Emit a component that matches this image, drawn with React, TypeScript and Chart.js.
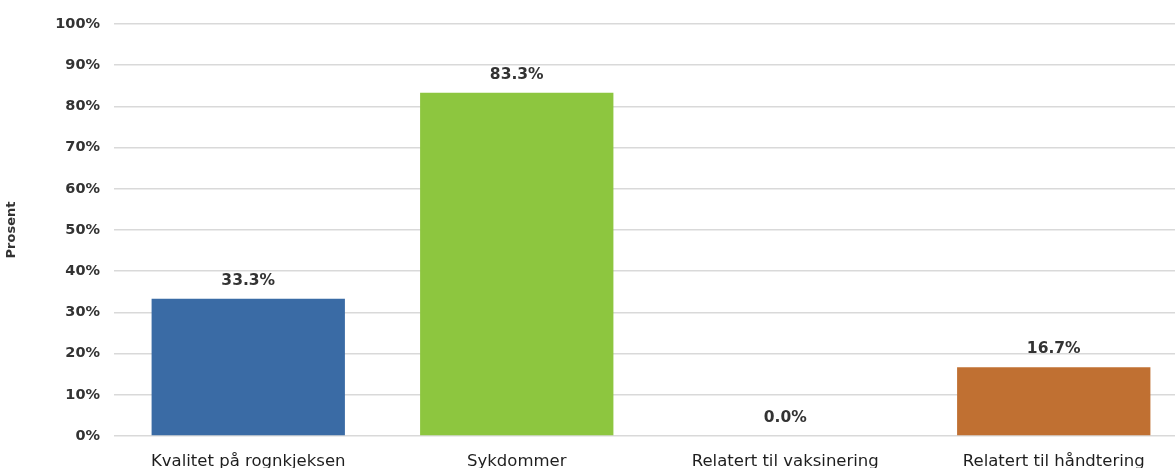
import React, { useEffect, useRef } from "react";
import { Chart, registerables } from "chart.js";

Chart.register(...registerables);

const categories = [
  "Kvalitet på rognkjeksen",
  "Sykdommer",
  "Relatert til vaksinering",
  "Relatert til håndtering",
];
const values = [33.3, 83.3, 0.0, 16.7];
const barColors = ["#3A6BA5", "#8DC63F", "#8DC63F", "#C07032"];
const yTicks = [0, 10, 20, 30, 40, 50, 60, 70, 80, 90, 100];

const FONT = "'DejaVu Sans', Verdana, sans-serif";

const valueLabels = {
  id: "valueLabels",
  afterDatasetsDraw(chart: any) {
    const ctx = chart.ctx;
    const meta = chart.getDatasetMeta(0);
    ctx.save();
    ctx.font = `bold 15.5px ${FONT}`;
    ctx.fillStyle = "#333333";
    ctx.textAlign = "center";
    ctx.textBaseline = "middle";
    meta.data.forEach((bar: any, i: number) => {
      const v = chart.data.datasets[0].data[i] as number;
      ctx.fillText(v.toFixed(1) + "%", bar.x, bar.y - 18);
    });
    ctx.restore();
  },
};

export default function App() {
  const ref = useRef<HTMLCanvasElement>(null);
  useEffect(() => {
    if (!ref.current) return;
    const chart = new Chart(ref.current, {
      type: "bar",
      data: {
        labels: categories,
        datasets: [
          {
            data: values,
            backgroundColor: barColors,
            borderWidth: 0,
            barPercentage: 0.72,
            categoryPercentage: 1,
          },
        ],
      },
      options: {
        animation: false,
        responsive: false,
        maintainAspectRatio: false,
        layout: { padding: { top: 24, left: 0, right: 0, bottom: 0 } },
        plugins: {
          legend: { display: false },
          tooltip: { enabled: false },
        },
        scales: {
          x: {
            grid: { display: false },
            border: { display: false },
            ticks: {
              color: "#1e1e1e",
              font: { family: FONT, size: 16.5 },
              padding: 8,
              maxRotation: 0,
              autoSkip: false,
            },
            afterFit: (s: any) => {
              s.height = 32;
            },
          },
          y: {
            min: 0,
            max: 100,
            afterBuildTicks: (s: any) => {
              s.ticks = yTicks.map((v) => ({ value: v }));
            },
            grid: { color: "#d9d9d9", lineWidth: 1.5, drawTicks: false },
            border: { display: false },
            ticks: {
              color: "#333333",
              font: { family: FONT, size: 14.5, weight: "bold" },
              padding: 14,
              callback: (v: any) => v + "%",
            },
            title: {
              display: true,
              text: "Prosent",
              color: "#333333",
              font: { family: FONT, size: 13, weight: "bold" },
              padding: { top: 4, bottom: 4 },
            },
            afterFit: (s: any) => {
              s.width = 114;
            },
          },
        },
      },
      plugins: [valueLabels],
    });
    return () => chart.destroy();
  }, []);
  return (
    <div style={{ position: "fixed", left: 0, top: 0, width: 1175, height: 468, overflow: "hidden", background: "#fff" }}>
      <canvas ref={ref} width={1188} height={468} style={{ display: "block" }} />
    </div>
  );
}
